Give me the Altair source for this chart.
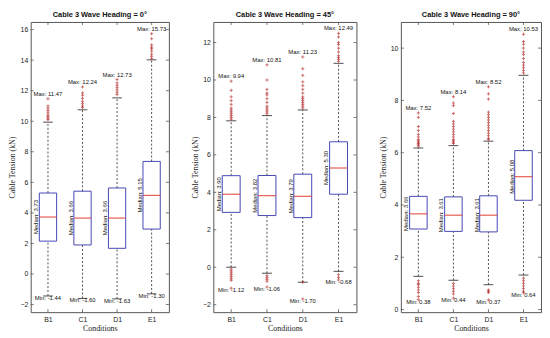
import altair as alt
import pandas as pd

categories = ["B1", "C1", "D1", "E1"]
headings = ["0°", "45°", "90°"]

q1 = {"0°": [2.15, 1.90, 1.68, 2.94], "45°": [2.93, 2.76, 2.65, 3.90], "90°": [3.08, 2.99, 2.97, 4.18]}
medians = {"0°": [3.73, 3.66, 3.66, 5.15], "45°": [3.90, 3.82, 3.79, 5.30], "90°": [3.66, 3.61, 3.61, 5.08]}
q3 = {"0°": [5.30, 5.42, 5.63, 7.37], "45°": [4.89, 4.90, 4.97, 6.70], "90°": [4.33, 4.31, 4.35, 6.08]}
whisker_low = {"0°": [-1.44, -1.60, -1.63, -1.30], "45°": [0.00, -0.32, -0.80, -0.22], "90°": [1.27, 1.12, 0.95, 1.32]}
whisker_high = {"0°": [9.94, 10.75, 11.53, 14.02], "45°": [7.82, 8.10, 8.40, 10.89], "90°": [6.18, 6.27, 6.44, 8.96]}
minima = {"0°": [-1.44, -1.60, -1.63, -1.30], "45°": [-1.12, -1.06, -1.70, -0.68], "90°": [0.38, 0.44, 0.37, 0.64]}
maxima = {"0°": [11.47, 12.24, 12.73, 15.73], "45°": [9.94, 10.81, 11.23, 12.49], "90°": [7.52, 8.14, 8.52, 10.53]}

outliers = {
    "0°": {
        "B1": [11.47, 11.0, 10.85, 10.7, 10.55, 10.4, 10.3, 10.2, 10.1],
        "C1": [12.24, 11.85, 11.7, 11.5, 11.3, 11.15, 11.0, 10.9],
        "D1": [12.73, 12.5, 12.35, 12.2, 12.05, 11.9, 11.75],
        "E1": [15.73, 15.4, 15.0, 14.85, 14.75, 14.6, 14.4, 14.25, 14.1],
    },
    "45°": {
        "B1": [9.94, 9.45, 9.1, 8.9, 8.7, 8.5, 8.4, 8.3, 8.2, 8.1, 8.0, 7.9,
               -0.1, -0.2, -0.3, -0.4, -0.5, -0.6, -0.7, -1.12],
        "C1": [10.81, 10.0, 9.5, 9.3, 9.2, 9.0, 8.8, 8.6, 8.5, 8.4, 8.3, 8.2,
               -0.45, -0.55, -0.65, -0.75, -1.06],
        "D1": [11.23, 10.6, 10.25, 9.9, 9.7, 9.5, 9.3, 9.1, 9.0, 8.9, 8.8, 8.7, 8.6, 8.5,
               -0.8, -1.70],
        "E1": [12.49, 12.3, 12.0, 11.9, 11.7, 11.5, 11.3, 11.2, 11.1, 11.0,
               -0.4, -0.55, -0.68],
    },
    "90°": {
        "B1": [7.52, 7.35, 7.0, 6.85, 6.7, 6.6, 6.5, 6.45, 6.4, 6.35, 6.3, 6.25,
               1.1, 1.0, 0.95, 0.85, 0.75, 0.65, 0.5, 0.38],
        "C1": [8.14, 7.9, 7.8, 7.5, 7.2, 7.1, 7.0, 6.9, 6.8, 6.7, 6.6, 6.5, 6.45, 6.4, 6.35,
               1.0, 0.9, 0.8, 0.7, 0.6, 0.44],
        "D1": [8.52, 8.25, 8.05, 7.55, 7.45, 7.35, 7.25, 7.15, 7.05, 6.95, 6.85, 6.75, 6.65, 6.55, 6.5,
               0.75, 0.7, 0.65, 0.37],
        "E1": [10.53, 10.25, 10.15, 10.0, 9.85, 9.75, 9.6, 9.45, 9.35, 9.25, 9.15, 9.05,
               1.2, 1.1, 1.0, 0.9, 0.8, 0.7, 0.64],
    },
}

y_domains = {"0°": [-2.5, 16.5], "45°": [-2.4, 13.1], "90°": [-0.1, 11.0]}
y_ticks = {"0°": [-2, 0, 2, 4, 6, 8, 10, 12, 14, 16],
           "45°": [-2, 0, 2, 4, 6, 8, 10, 12],
           "90°": [0, 2, 4, 6, 8, 10]}

BOX = "#4646b4"
MED = "#e03c31"
OUT = "#b22222"
FRAME = "#555555"
H = 294


def panel(h, width):
    pos = list(range(1, len(categories) + 1))
    box = pd.DataFrame({
        "cat": categories, "pos": pos,
        "q1": q1[h], "med": medians[h], "q3": q3[h],
        "lo": whisker_low[h], "hi": whisker_high[h],
        "mn": minima[h], "mx": maxima[h],
    })
    box["left"] = box["pos"] - 0.25
    box["right"] = box["pos"] + 0.25
    box["capl"] = box["pos"] - 0.14
    box["capr"] = box["pos"] + 0.14
    box["medx"] = box["pos"] - 0.34
    box["maxlab"] = ["Max: %.2f" % v for v in box["mx"]]
    box["minlab"] = ["Min: %.2f" % v for v in box["mn"]]
    box["medlab"] = ["Median: %.2f" % v for v in box["med"]]

    rows = []
    for c, p in zip(categories, pos):
        for v in outliers[h][c]:
            rows.append({"pos": p, "v": v})
    out = pd.DataFrame(rows)
    ticks = pd.DataFrame({"t": y_ticks[h]})
    xt = pd.DataFrame({"pos": pos})

    xs = alt.Scale(domain=[0.5, 4.5], nice=False, zero=False)
    ys = alt.Scale(domain=y_domains[h], nice=False, zero=False)
    xax = alt.Axis(values=pos, labelExpr="['B1','C1','D1','E1'][datum.value-1]",
                   title="Conditions", grid=False, ticks=False, domain=False, tickCount=len(pos))
    yax = alt.Axis(values=y_ticks[h], title="Cable Tension (kN)", grid=False,
                   ticks=False, domain=False, labelOverlap=False, tickCount=len(y_ticks[h]))

    base = alt.Chart(box)
    X = alt.X("pos:Q", scale=xs, axis=xax)
    whisk_hi = base.mark_rule(color="#222", strokeDash=[2, 2], strokeWidth=0.8).encode(
        x=X, y=alt.Y("q3:Q", scale=ys, axis=yax), y2="hi:Q")
    whisk_lo = base.mark_rule(color="#222", strokeDash=[2, 2], strokeWidth=0.8).encode(
        x="pos:Q", y="lo:Q", y2="q1:Q")
    cap_hi = base.mark_rule(color="#222", strokeWidth=0.8).encode(x="capl:Q", x2="capr:Q", y="hi:Q")
    cap_lo = base.mark_rule(color="#222", strokeWidth=0.8).encode(x="capl:Q", x2="capr:Q", y="lo:Q")
    rect = base.mark_rect(fillOpacity=0, stroke=BOX, strokeWidth=1).encode(
        x="left:Q", x2="right:Q", y="q1:Q", y2="q3:Q")
    med = base.mark_rule(color=MED, strokeWidth=1).encode(x="left:Q", x2="right:Q", y="med:Q")
    pts = alt.Chart(out).mark_point(shape="M-1,0L1,0M0,-1L0,1", filled=False, color=OUT,
                                    size=10, strokeWidth=0.9).encode(x="pos:Q", y="v:Q")
    txt_kw = dict(font="Liberation Sans", fontSize=6, color="#111")
    maxt = base.mark_text(baseline="middle", dy=-5, **txt_kw).encode(x="pos:Q", y="mx:Q", text="maxlab:N")
    mint = base.mark_text(baseline="middle", dy=2, **txt_kw).encode(x="pos:Q", y="mn:Q", text="minlab:N")
    medt = base.mark_text(baseline="middle", align="center", angle=270, **txt_kw).encode(
        x="medx:Q", y="med:Q", text="medlab:N")

    tk = alt.Chart(ticks).mark_rule(color=FRAME, strokeWidth=0.8)
    yl = tk.encode(y="t:Q", x=alt.value(0), x2=alt.value(3))
    yr = tk.encode(y="t:Q", x=alt.value(width - 3), x2=alt.value(width))
    xk = alt.Chart(xt).mark_rule(color=FRAME, strokeWidth=0.8)
    xtop = xk.encode(x="pos:Q", y=alt.value(0), y2=alt.value(3))
    xbot = xk.encode(x="pos:Q", y=alt.value(H - 3), y2=alt.value(H))

    return alt.layer(whisk_hi, whisk_lo, cap_hi, cap_lo, rect, med, pts, maxt, mint, medt,
                     yl, yr, xtop, xbot).properties(
        width=width, height=H,
        title=alt.TitleParams("Cable 3 Wave Heading = " + h))


chart = alt.hconcat(panel("0°", 140), panel("45°", 145), panel("90°", 142), spacing=21).properties(
    padding=0
).configure_view(stroke=FRAME, strokeWidth=1).configure_axis(
    labelFont="Liberation Sans", labelFontSize=7, labelColor="#222", labelPadding=3,
    titleFont="Liberation Serif", titleFontSize=8, titleFontWeight="normal", titleColor="#222",
    titlePadding=3, labelOverlap=False,
).configure_title(font="Liberation Sans", fontSize=7.5, fontWeight="bold", color="#111", offset=3)

chart.save("out.html", embed_options={"renderer": "svg", "actions": False})
